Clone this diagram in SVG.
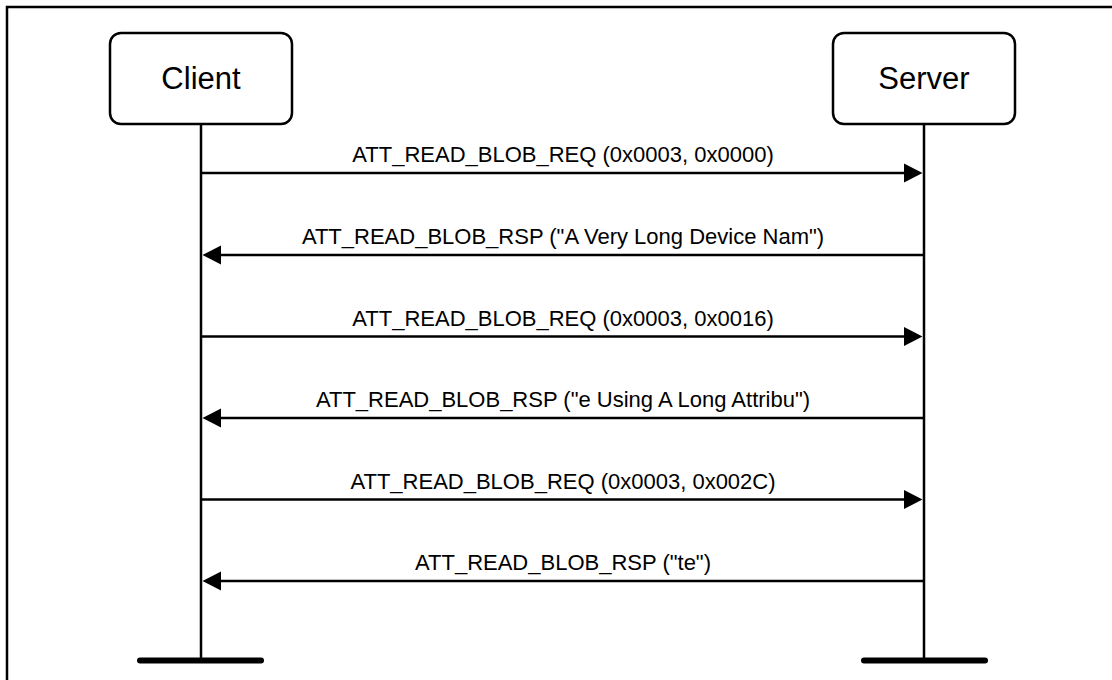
<svg xmlns="http://www.w3.org/2000/svg" width="1112" height="680" viewBox="0 0 1112 680">
<style>
.frame{fill:none;stroke:#000;stroke-width:2.5}
.box{fill:#fff;stroke:#000;stroke-width:2.5}
.life{stroke:#000;stroke-width:2.5;fill:none}
.bar{stroke:#000;stroke-width:6;stroke-linecap:round}
.msg{stroke:#000;stroke-width:2.5;fill:none}
.head{fill:#000}
.title{font-family:"Liberation Sans",Arial,sans-serif;font-size:31px;fill:#000;text-anchor:middle}
.lbl{font-family:"Liberation Sans",Arial,sans-serif;font-size:22px;fill:#000;text-anchor:middle}
</style>
<rect x="0" y="0" width="1112" height="680" fill="#fff"/>
<rect class="frame" x="7" y="7" width="1200" height="800"/>
<g id="client">
<rect class="box" x="110" y="33" width="182" height="91" rx="11"/>
<text class="title" x="201" y="89">Client</text>
<line class="life" x1="201" y1="124" x2="201" y2="660"/>
<line class="bar" x1="140" y1="660.5" x2="261" y2="660.5"/>
</g>
<g id="server">
<rect class="box" x="833" y="33" width="182" height="91" rx="11"/>
<text class="title" x="924" y="89">Server</text>
<line class="life" x1="924" y1="124" x2="924" y2="660"/>
<line class="bar" x1="864" y1="660.5" x2="985" y2="660.5"/>
</g>
<g id="connectors">
<line class="msg" x1="201" y1="173" x2="905" y2="173"/>
<polygon class="head" points="922.5,173 904,163.5 904,182.5"/>
<text class="lbl" x="563" y="162">ATT_READ_BLOB_REQ (0x0003, 0x0000)</text>

<line class="msg" x1="924" y1="255" x2="220" y2="255"/>
<polygon class="head" points="202.5,255 221,245.5 221,264.5"/>
<text class="lbl" x="563" y="244">ATT_READ_BLOB_RSP ("A Very Long Device Nam")</text>

<line class="msg" x1="201" y1="336.5" x2="905" y2="336.5"/>
<polygon class="head" points="922.5,336.5 904,327 904,346"/>
<text class="lbl" x="563" y="325.5">ATT_READ_BLOB_REQ (0x0003, 0x0016)</text>

<line class="msg" x1="924" y1="418" x2="220" y2="418"/>
<polygon class="head" points="202.5,418 221,408.5 221,427.5"/>
<text class="lbl" x="563" y="407">ATT_READ_BLOB_RSP ("e Using A Long Attribu")</text>

<line class="msg" x1="201" y1="499.5" x2="905" y2="499.5"/>
<polygon class="head" points="922.5,499.5 904,490 904,509"/>
<text class="lbl" x="563" y="488.5">ATT_READ_BLOB_REQ (0x0003, 0x002C)</text>

<line class="msg" x1="924" y1="581" x2="220" y2="581"/>
<polygon class="head" points="202.5,581 221,571.5 221,590.5"/>
<text class="lbl" x="563" y="570">ATT_READ_BLOB_RSP ("te")</text>
</g>
</svg>
